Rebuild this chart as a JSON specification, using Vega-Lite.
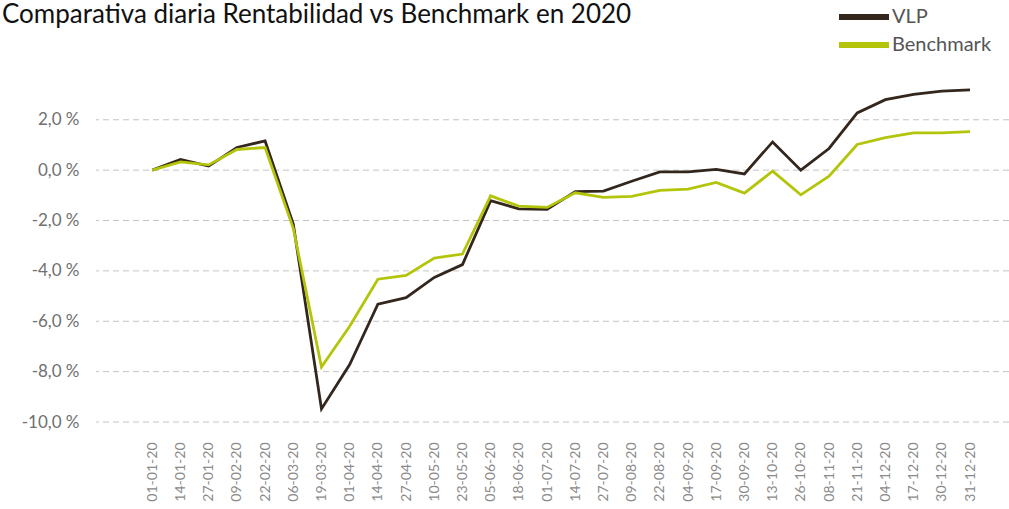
{
  "$schema": "https://vega.github.io/schema/vega-lite/v6.json",
  "autosize": {"type": "none"},
  "padding": {"left": 96, "top": 82, "right": 0, "bottom": 87},
  "width": 913,
  "height": 340,
  "background": "white",
  "title": {
    "text": "Comparativa diaria Rentabilidad vs Benchmark en 2020",
    "anchor": "start",
    "frame": "group",
    "orient": "top",
    "font": "Lato",
    "fontSize": 26,
    "fontWeight": "normal",
    "color": "#111111",
    "baseline": "alphabetic",
    "offset": -43,
    "dx": -94
  },
  "datasets": {
    "grid": [
      {"nivel": -10}, {"nivel": -8}, {"nivel": -6}, {"nivel": -4},
      {"nivel": -2}, {"nivel": 0}, {"nivel": 2}
    ],
    "serie": [
      {"fecha": "01-01-20", "serie": "VLP", "valor": 0.0},
      {"fecha": "14-01-20", "serie": "VLP", "valor": 0.42},
      {"fecha": "27-01-20", "serie": "VLP", "valor": 0.16},
      {"fecha": "09-02-20", "serie": "VLP", "valor": 0.9},
      {"fecha": "22-02-20", "serie": "VLP", "valor": 1.16},
      {"fecha": "06-03-20", "serie": "VLP", "valor": -2.14},
      {"fecha": "19-03-20", "serie": "VLP", "valor": -9.48},
      {"fecha": "01-04-20", "serie": "VLP", "valor": -7.72},
      {"fecha": "14-04-20", "serie": "VLP", "valor": -5.32},
      {"fecha": "27-04-20", "serie": "VLP", "valor": -5.06},
      {"fecha": "10-05-20", "serie": "VLP", "valor": -4.26},
      {"fecha": "23-05-20", "serie": "VLP", "valor": -3.75},
      {"fecha": "05-06-20", "serie": "VLP", "valor": -1.21},
      {"fecha": "18-06-20", "serie": "VLP", "valor": -1.54},
      {"fecha": "01-07-20", "serie": "VLP", "valor": -1.56},
      {"fecha": "14-07-20", "serie": "VLP", "valor": -0.85},
      {"fecha": "27-07-20", "serie": "VLP", "valor": -0.83},
      {"fecha": "09-08-20", "serie": "VLP", "valor": -0.44},
      {"fecha": "22-08-20", "serie": "VLP", "valor": -0.07},
      {"fecha": "04-09-20", "serie": "VLP", "valor": -0.07},
      {"fecha": "17-09-20", "serie": "VLP", "valor": 0.03},
      {"fecha": "30-09-20", "serie": "VLP", "valor": -0.15},
      {"fecha": "13-10-20", "serie": "VLP", "valor": 1.12},
      {"fecha": "26-10-20", "serie": "VLP", "valor": 0.0},
      {"fecha": "08-11-20", "serie": "VLP", "valor": 0.86},
      {"fecha": "21-11-20", "serie": "VLP", "valor": 2.27},
      {"fecha": "04-12-20", "serie": "VLP", "valor": 2.8},
      {"fecha": "17-12-20", "serie": "VLP", "valor": 3.01},
      {"fecha": "30-12-20", "serie": "VLP", "valor": 3.14},
      {"fecha": "31-12-20", "serie": "VLP", "valor": 3.19},
      {"fecha": "01-01-20", "serie": "Benchmark", "valor": 0.0},
      {"fecha": "14-01-20", "serie": "Benchmark", "valor": 0.33},
      {"fecha": "27-01-20", "serie": "Benchmark", "valor": 0.21},
      {"fecha": "09-02-20", "serie": "Benchmark", "valor": 0.82},
      {"fecha": "22-02-20", "serie": "Benchmark", "valor": 0.9},
      {"fecha": "06-03-20", "serie": "Benchmark", "valor": -2.31},
      {"fecha": "19-03-20", "serie": "Benchmark", "valor": -7.82},
      {"fecha": "01-04-20", "serie": "Benchmark", "valor": -6.2},
      {"fecha": "14-04-20", "serie": "Benchmark", "valor": -4.33},
      {"fecha": "27-04-20", "serie": "Benchmark", "valor": -4.18},
      {"fecha": "10-05-20", "serie": "Benchmark", "valor": -3.49},
      {"fecha": "23-05-20", "serie": "Benchmark", "valor": -3.33},
      {"fecha": "05-06-20", "serie": "Benchmark", "valor": -1.02},
      {"fecha": "18-06-20", "serie": "Benchmark", "valor": -1.43},
      {"fecha": "01-07-20", "serie": "Benchmark", "valor": -1.48},
      {"fecha": "14-07-20", "serie": "Benchmark", "valor": -0.9},
      {"fecha": "27-07-20", "serie": "Benchmark", "valor": -1.08},
      {"fecha": "09-08-20", "serie": "Benchmark", "valor": -1.04},
      {"fecha": "22-08-20", "serie": "Benchmark", "valor": -0.8},
      {"fecha": "04-09-20", "serie": "Benchmark", "valor": -0.75},
      {"fecha": "17-09-20", "serie": "Benchmark", "valor": -0.49},
      {"fecha": "30-09-20", "serie": "Benchmark", "valor": -0.91},
      {"fecha": "13-10-20", "serie": "Benchmark", "valor": -0.04},
      {"fecha": "26-10-20", "serie": "Benchmark", "valor": -0.98},
      {"fecha": "08-11-20", "serie": "Benchmark", "valor": -0.24},
      {"fecha": "21-11-20", "serie": "Benchmark", "valor": 1.02},
      {"fecha": "04-12-20", "serie": "Benchmark", "valor": 1.29},
      {"fecha": "17-12-20", "serie": "Benchmark", "valor": 1.48},
      {"fecha": "30-12-20", "serie": "Benchmark", "valor": 1.48},
      {"fecha": "31-12-20", "serie": "Benchmark", "valor": 1.53}
    ]
  },
  "layer": [
    {
      "data": {"name": "grid"},
      "mark": {"type": "rule", "color": "#c4c4c4", "strokeWidth": 1, "strokeDash": [6, 4]},
      "encoding": {
        "y": {"field": "nivel", "type": "quantitative"}
      }
    },
    {
      "data": {"name": "serie"},
      "mark": {"type": "line", "strokeWidth": 2.8},
      "encoding": {
        "x": {
          "field": "fecha",
          "type": "ordinal",
          "sort": null,
          "scale": {"type": "point", "padding": 0, "range": [56.3, 874]},
          "axis": {
            "title": null,
            "domain": false,
            "ticks": false,
            "grid": false,
            "labelAngle": -90,
            "labelFont": "Lato",
            "labelFontSize": 14,
            "labelColor": "#8a8a8a",
            "labelPadding": 20
          }
        },
        "y": {
          "field": "valor",
          "type": "quantitative",
          "axis": {
            "title": null,
            "domain": false,
            "ticks": false,
            "grid": false,
            "values": [-10, -8, -6, -4, -2, 0, 2],
            "labelExpr": "(datum.value < 0 ? '-' : '') + replace(format(abs(datum.value), '.1f'), '.', ',') + ' %'",
            "labelFont": "Lato",
            "labelFontSize": 17,
            "labelColor": "#707070",
            "labelPadding": 17
          }
        },
        "color": {
          "field": "serie",
          "type": "nominal",
          "sort": ["VLP", "Benchmark"],
          "scale": {"domain": ["VLP", "Benchmark"], "range": ["#33261d", "#b3c50a"]},
          "legend": {
            "title": null,
            "orient": "none",
            "legendX": 740,
            "legendY": -76,
            "symbolType": "stroke",
            "symbolSize": 2500,
            "symbolStrokeWidth": 6,
            "clipHeight": 22,
            "rowPadding": 6,
            "padding": 0,
            "labelFont": "Lato",
            "labelFontSize": 20,
            "labelColor": "#555555",
            "labelOffset": 0
          }
        }
      }
    }
  ],
  "resolve": {"scale": {"y": "shared"}},
  "encoding": {
    "y": {"scale": {"domain": [-10, 3.5], "nice": false, "zero": false}}
  },
  "config": {"view": {"stroke": null}}
}
